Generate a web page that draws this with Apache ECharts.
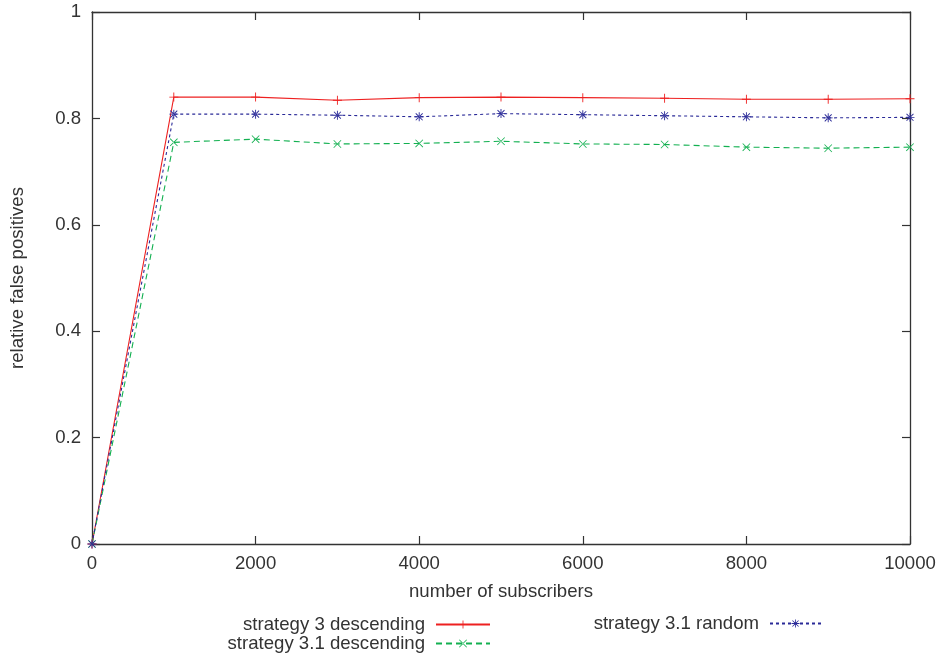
<!DOCTYPE html>
<html>
<head>
<meta charset="utf-8">
<script src="https://cdn.jsdelivr.net/npm/echarts@6/dist/echarts.min.js"></script>
<style>html,body{margin:0;padding:0;background:#fff}#c{width:941px;height:658px}</style>
</head>
<body>
<div id="c"></div>
<script>
var subscribers = [0, 1000, 2000, 3000, 4000, 5000, 6000, 7000, 8000, 9000, 10000];
var s3Desc = [0, 0.840, 0.840, 0.834, 0.839, 0.840, 0.839, 0.838, 0.836, 0.836, 0.837];
var s31Desc = [0, 0.755, 0.761, 0.752, 0.753, 0.757, 0.752, 0.751, 0.746, 0.744, 0.746];
var s31Rand = [0, 0.808, 0.808, 0.806, 0.803, 0.809, 0.807, 0.805, 0.803, 0.801, 0.802];
var seriesNames = ['strategy 3 descending', 'strategy 3.1 descending', 'strategy 3.1 random'];

function pairs(ys) { return subscribers.map(function (x, i) { return [x, ys[i]]; }); }

var plusSym = 'path://M4.5,0H5.5V10H4.5Z M0,4.5H10V5.5H0Z';
var crossSym = 'path://M0,0.7L0.7,0L10,9.3L9.3,10Z M10,0.7L9.3,0L0,9.3L0.7,10Z';
var starSym = 'path://M4.5,0H5.5V10H4.5Z M0,4.5H10V5.5H0Z M0.8,1.5L1.5,0.8L9.2,8.5L8.5,9.2Z M9.2,1.5L8.5,0.8L0.8,8.5L1.5,9.2Z';

var txt = '#333333';
var font = 'Liberation Sans, Arial, sans-serif';
var fs = 18.6;
var axisLine = {show: true, onZero: false, lineStyle: {color: '#333', width: 1.3}};
var tick = {show: true, inside: true, length: 8, lineStyle: {color: '#333', width: 1.2}};
var legText = {color: txt, fontSize: fs, fontFamily: font, lineHeight: 19, padding: [0, 6, 0, 0]};

var chart = echarts.init(document.getElementById('c'), null, {renderer: 'canvas'});
chart.setOption({
  animation: false,
  backgroundColor: '#fff',
  grid: {left: 92, right: 31, top: 12, bottom: 114, containLabel: false, outerBoundsMode: 'none'},
  xAxis: [{
    type: 'value', min: 0, max: 10000, interval: 2000, position: 'bottom',
    name: 'number of subscribers', nameLocation: 'middle', nameGap: 38,
    nameTextStyle: {color: txt, fontSize: fs, fontFamily: font},
    axisLine: axisLine, axisTick: tick, splitLine: {show: false},
    axisLabel: {color: txt, fontSize: fs, fontFamily: font, margin: 10,
      formatter: function (v) { return String(v); }}
  }, {
    type: 'value', min: 0, max: 10000, interval: 2000, position: 'top',
    axisLine: axisLine, axisTick: tick, splitLine: {show: false}, axisLabel: {show: false}
  }],
  yAxis: [{
    type: 'value', min: 0, max: 1, interval: 0.2, position: 'left',
    name: 'relative false positives', nameLocation: 'middle', nameGap: 65,
    nameTextStyle: {color: txt, fontSize: fs, fontFamily: font},
    axisLine: axisLine, axisTick: tick, splitLine: {show: false},
    axisLabel: {color: txt, fontSize: fs, fontFamily: font, margin: 11,
      formatter: function (v) { return String(Math.round(v * 10) / 10); }}
  }, {
    type: 'value', min: 0, max: 1, interval: 0.2, position: 'right',
    axisLine: axisLine, axisTick: tick, splitLine: {show: false}, axisLabel: {show: false}
  }],
  legend: [{
    data: [seriesNames[0], seriesNames[1]],
    orient: 'vertical', align: 'right', right: 450, bottom: 5, padding: 0,
    itemWidth: 54, itemHeight: 10, itemGap: 0,
    textStyle: legText
  }, {
    data: [seriesNames[2]],
    orient: 'vertical', align: 'right', right: 119, top: 614, padding: 0,
    itemWidth: 51, itemHeight: 10, itemGap: 0,
    textStyle: legText
  }],
  series: [{
    name: seriesNames[0], type: 'line', data: pairs(s3Desc),
    symbol: plusSym, symbolSize: 9,
    lineStyle: {color: '#ee2020', width: 1.1, type: 'solid'},
    itemStyle: {color: '#ee2020'}
  }, {
    name: seriesNames[1], type: 'line', data: pairs(s31Desc),
    symbol: crossSym, symbolSize: 8,
    lineStyle: {color: '#12b050', width: 1.1, type: [6, 4]},
    itemStyle: {color: '#12b050'}
  }, {
    name: seriesNames[2], type: 'line', data: pairs(s31Rand),
    symbol: starSym, symbolSize: 9,
    lineStyle: {color: '#2a2a98', width: 1.1, type: [3, 3]},
    itemStyle: {color: '#2a2a98'}
  }]
});
</script>
</body>
</html>
